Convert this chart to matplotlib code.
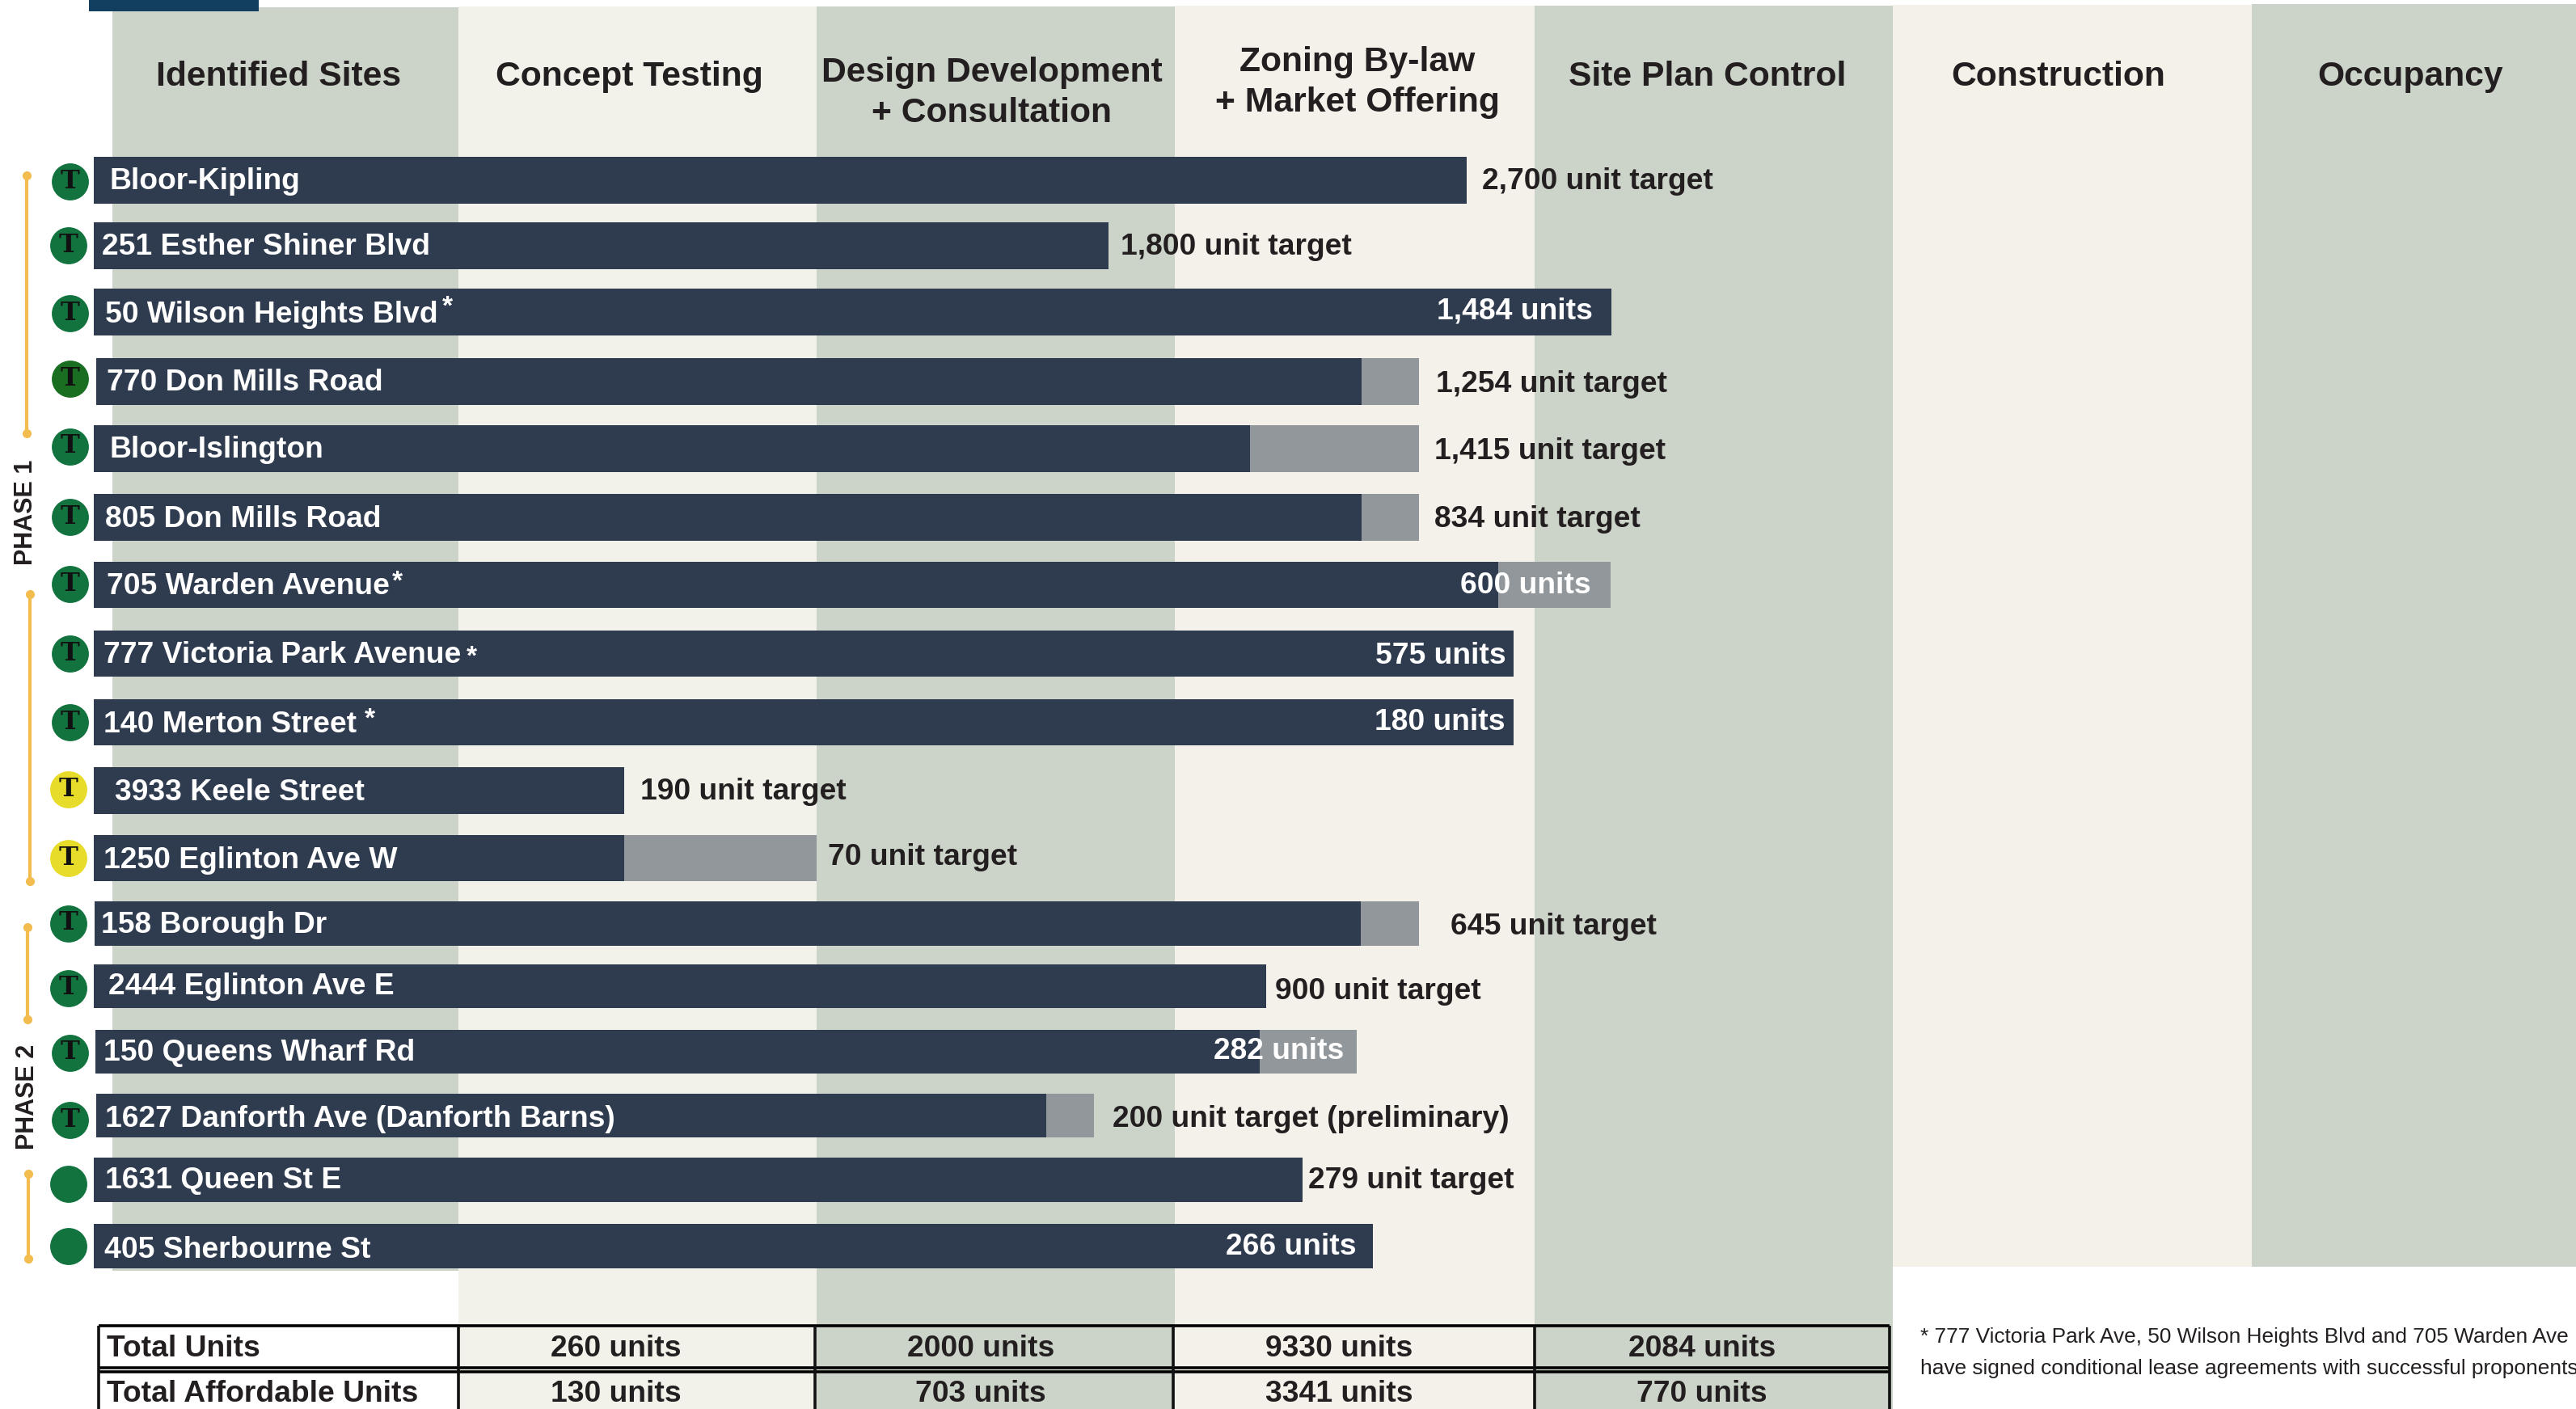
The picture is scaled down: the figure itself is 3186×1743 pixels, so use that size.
import matplotlib
matplotlib.use("Agg")
import matplotlib.pyplot as plt
from matplotlib.patches import Rectangle

plt.rcParams['font.family'] = ['Liberation Sans', 'DejaVu Sans']

stages = ["Identified Sites", "Concept Testing", "Design Development\n+ Consultation",
          "Zoning By-law\n+ Market Offering", "Site Plan Control", "Construction", "Occupancy"]
stage_edges = [139, 567, 1010, 1453, 1898, 2341, 2785, 3186]
stage_tops = [9, 8, 8, 7, 7, 6, 5]
stage_bottoms = [1572, 1743, 1743, 1743, 1743, 1567, 1567]
stage_colors = ["#CCD4C9", "#F2F2EA", "#CCD4C9", "#F3F1EA", "#CCD4C9", "#F4F1E9", "#CCD4C9"]
stage_label_x = [345, 778, 1227, 1679, 2112, 2546, 2981]
stage_label_y = [95, 95, 115, 102, 95, 95, 95]

sites = ["Bloor-Kipling", "251 Esther Shiner Blvd", "50 Wilson Heights Blvd", "770 Don Mills Road",
         "Bloor-Islington", "805 Don Mills Road", "705 Warden Avenue", "777 Victoria Park Avenue",
         "140 Merton Street", "3933 Keele Street", "1250 Eglinton Ave W", "158 Borough Dr",
         "2444 Eglinton Ave E", "150 Queens Wharf Rd", "1627 Danforth Ave (Danforth Barns)",
         "1631 Queen St E", "405 Sherbourne St"]
bar_top = [194, 275, 357, 443, 526, 611, 695, 780, 865, 949, 1033, 1115, 1193, 1274, 1353, 1432, 1514]
bar_bottom = [252, 333, 415, 501, 584, 669, 752, 837, 922, 1007, 1090, 1170, 1247, 1328, 1407, 1487, 1569]
bar_start = [116, 116, 116, 119, 116, 116, 116, 116, 116, 116, 116, 117, 116, 118, 119, 116, 116]
progress_end = [1814, 1371, 1993, 1684, 1546, 1684, 1853, 1872, 1872, 772, 772, 1683, 1566, 1558, 1294, 1611, 1698]
pending_end = [1814, 1371, 1993, 1755, 1755, 1755, 1992, 1872, 1872, 772, 1010, 1755, 1566, 1678, 1353, 1611, 1698]
name_x = [136, 126, 130, 132, 136, 130, 132, 128, 128, 142, 128, 125, 134, 128, 130, 130, 129]
name_y = [224, 305, 389, 473, 557, 642, 725, 810, 896, 980, 1065, 1145, 1221, 1303, 1384, 1461, 1547]

unit_labels = ["2,700 unit target", "1,800 unit target", "1,484 units", "1,254 unit target",
               "1,415 unit target", "834 unit target", "600 units", "575 units", "180 units",
               "190 unit target", "70 unit target", "645 unit target", "900 unit target",
               "282 units", "200 unit target (preliminary)", "279 unit target", "266 units"]
unit_x = [1833, 1386, 1970, 1776, 1774, 1774, 1968, 1863, 1861, 792, 1024, 1794, 1577, 1662, 1376, 1618, 1678]
unit_y = [224, 305, 385, 475, 558, 642, 724, 811, 893, 979, 1061, 1147, 1227, 1301, 1385, 1461, 1543]
unit_inside = [False, False, True, False, False, False, True, True, True, False, False, False, False, True, False, False, True]

icon_x = [87, 85, 87, 87, 87, 87, 87, 87, 87, 85, 85, 85, 85, 87, 87, 85, 85]
icon_y = [225, 304, 388, 469, 553, 640, 723, 809, 894, 977, 1062, 1143, 1223, 1303, 1386, 1465, 1542]
icon_colors = ["#12733F"] * 3 + ["#1A6E22"] + ["#12733F"] * 5 + ["#E8DC2A"] * 2 + ["#12733F"] * 6
icon_letters = ["T"] * 15 + ["", ""]

stars_x = [553, 491, 583, 457]
stars_y = [380, 720, 813, 890]

phase_names = ["PHASE 1", "PHASE 2"]
phase_x = [32, 34]
phase_y = [634, 1357]
seg_x = [33, 37, 34, 35]
seg_y0 = [217, 735, 1147, 1452]
seg_y1 = [536, 1090, 1261, 1557]

row_names = ["Total Units", "Total Affordable Units"]
row_y = [1668, 1725]
table_x = [762, 1213, 1656, 2105]
total_units = ["260 units", "2000 units", "9330 units", "2084 units"]
affordable_units = ["130 units", "703 units", "3341 units", "770 units"]
table_lines_x = [122, 567, 1008, 1451, 1898, 2337]

footnote = ["* 777 Victoria Park Ave, 50 Wilson Heights Blvd and 705 Warden Ave",
            "have signed conditional lease agreements with successful proponents"]
footnote_y = [1654, 1693]

DARK = "#2F3B4E"
GREY = "#92979B"
TXT = "#231F20"
ORANGE = "#F2BC4E"

fig = plt.figure(figsize=(31.86, 17.43), dpi=100)
ax = fig.add_axes([0, 0, 1, 1])
ax.set_xlim(0, 3186)
ax.set_ylim(1743, 0)
ax.axis("off")

ax.add_patch(Rectangle((110, 0), 210, 14, color="#123F60", lw=0, zorder=3))

for i, s in enumerate(stages):
    ax.add_patch(Rectangle((stage_edges[i], stage_tops[i]), stage_edges[i + 1] - stage_edges[i],
                           stage_bottoms[i] - stage_tops[i], color=stage_colors[i], lw=0, zorder=1))
    ax.text(stage_label_x[i], stage_label_y[i], s, ha="center", va="center", fontsize=30.7,
            fontweight="bold", color=TXT, linespacing=1.3, zorder=5)

for i, site in enumerate(sites):
    c = (bar_top[i] + bar_bottom[i]) / 2
    h = bar_bottom[i] - bar_top[i]
    if pending_end[i] > progress_end[i]:
        ax.barh(c, pending_end[i] - bar_start[i], height=h, left=bar_start[i], color=GREY, lw=0, zorder=2)
    ax.barh(c, progress_end[i] - bar_start[i], height=h, left=bar_start[i], color=DARK, lw=0, zorder=3)
    ax.text(name_x[i], name_y[i], site, ha="left", va="center", fontsize=26.8, fontweight="bold", color="white", zorder=5)
    if unit_inside[i]:
        ax.text(unit_x[i], unit_y[i], unit_labels[i], ha="right", va="center", fontsize=26.8,
                fontweight="bold", color="white", zorder=5)
    else:
        ax.text(unit_x[i], unit_y[i], unit_labels[i], ha="left", va="center", fontsize=26.8,
                fontweight="bold", color=TXT, zorder=5)

ax.scatter(icon_x, icon_y, s=1090, c=icon_colors, linewidths=0, zorder=4)
for x, y, t in zip(icon_x, icon_y, icon_letters):
    ax.text(x, y - 1, t, ha="center", va="center", fontsize=23, fontweight="bold",
            family=["DejaVu Serif"], color="#111111", zorder=5)

for x, y in zip(stars_x, stars_y):
    ax.text(x, y, "*", ha="center", va="center", fontsize=24, fontweight="bold", color="white", zorder=5)

for i in range(len(seg_x)):
    ax.plot([seg_x[i], seg_x[i]], [seg_y0[i], seg_y1[i]], color=ORANGE, lw=3, zorder=2,
            marker="o", ms=8, mew=0)
for n, x, y in zip(phase_names, phase_x, phase_y):
    ax.text(x, y, n, rotation=90, ha="center", va="center", fontsize=22, fontweight="bold", color=TXT, zorder=5)

LW = 2.6
ax.hlines([1640, 1692, 1697], 122, 2337, color="black", lw=LW, zorder=6)
ax.vlines(table_lines_x, 1640, 1743, color="#111111", lw=LW, zorder=6)
for n, y in zip(row_names, row_y):
    ax.text(132, y, n, ha="left", va="center", fontsize=26.8, fontweight="bold", color=TXT, zorder=7)
for x, a, b in zip(table_x, total_units, affordable_units):
    ax.text(x, row_y[0], a, ha="center", va="center", fontsize=26.8, fontweight="bold", color=TXT, zorder=7)
    ax.text(x, row_y[1], b, ha="center", va="center", fontsize=26.8, fontweight="bold", color=TXT, zorder=7)

for t, y in zip(footnote, footnote_y):
    ax.text(2375, y, t, ha="left", va="center", fontsize=18.9, color=TXT, zorder=7)

fig.savefig("out.png", dpi=100, facecolor="white")
